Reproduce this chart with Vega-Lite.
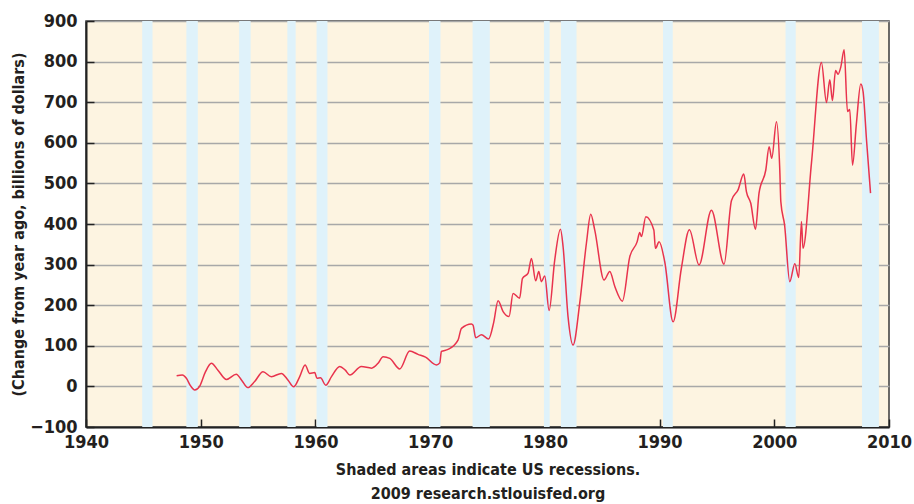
{
  "$schema": "https://vega.github.io/schema/vega-lite/v6.json",
  "width": 803,
  "height": 406,
  "autosize": {"type": "none"},
  "padding": {"left": 86, "top": 21, "right": 25, "bottom": 77},
  "background": "white",
  "config": {
    "view": {"fill": "#fdf4e1", "stroke": "#3a3a3a", "strokeWidth": 1.5},
    "font": "DejaVu Sans Condensed, Roboto, sans-serif"
  },
  "datasets": {
    "recessions": [
      {"year": 1944.9, "year_end": 1945.8},
      {"year": 1948.75, "year_end": 1949.75},
      {"year": 1953.35, "year_end": 1954.35},
      {"year": 1957.55, "year_end": 1958.28},
      {"year": 1960.1, "year_end": 1961.05},
      {"year": 1969.9, "year_end": 1970.9},
      {"year": 1973.7, "year_end": 1975.2},
      {"year": 1979.92, "year_end": 1980.42},
      {"year": 1981.4, "year_end": 1982.76},
      {"year": 1990.3, "year_end": 1991.15},
      {"year": 2000.98, "year_end": 2001.87},
      {"year": 2007.65, "year_end": 2009.12}
    ],
    "series": [
      {"year": 1947.9, "value": 26}, {"year": 1948.4, "value": 28}, {"year": 1948.75, "value": 20},
      {"year": 1949.1, "value": 2}, {"year": 1949.48, "value": -9}, {"year": 1949.9, "value": 0},
      {"year": 1950.4, "value": 35}, {"year": 1950.93, "value": 57}, {"year": 1951.5, "value": 40},
      {"year": 1952.24, "value": 17}, {"year": 1953.1, "value": 30}, {"year": 1953.55, "value": 16},
      {"year": 1954.1, "value": -3}, {"year": 1954.7, "value": 12}, {"year": 1955.43, "value": 36},
      {"year": 1956.16, "value": 24}, {"year": 1957.03, "value": 32}, {"year": 1957.6, "value": 16},
      {"year": 1958.1, "value": -1}, {"year": 1958.63, "value": 24}, {"year": 1959.1, "value": 53},
      {"year": 1959.5, "value": 32}, {"year": 1959.94, "value": 34}, {"year": 1960.14, "value": 20},
      {"year": 1960.44, "value": 21}, {"year": 1960.9, "value": 3}, {"year": 1961.4, "value": 24},
      {"year": 1962.12, "value": 49}, {"year": 1962.6, "value": 40}, {"year": 1963.0, "value": 28},
      {"year": 1964.0, "value": 49}, {"year": 1964.9, "value": 45}, {"year": 1965.46, "value": 57},
      {"year": 1965.9, "value": 73}, {"year": 1966.48, "value": 69}, {"year": 1967.35, "value": 43},
      {"year": 1968.22, "value": 87}, {"year": 1968.94, "value": 79}, {"year": 1969.6, "value": 72},
      {"year": 1970.55, "value": 53}, {"year": 1970.84, "value": 58}, {"year": 1970.98, "value": 86},
      {"year": 1971.56, "value": 91}, {"year": 1972.43, "value": 114}, {"year": 1972.73, "value": 143},
      {"year": 1973.6, "value": 154}, {"year": 1973.74, "value": 151}, {"year": 1973.97, "value": 120},
      {"year": 1974.47, "value": 127}, {"year": 1975.1, "value": 117}, {"year": 1975.55, "value": 159},
      {"year": 1975.92, "value": 211}, {"year": 1976.36, "value": 184}, {"year": 1976.88, "value": 172},
      {"year": 1977.23, "value": 229}, {"year": 1977.8, "value": 217}, {"year": 1978.05, "value": 266},
      {"year": 1978.54, "value": 279}, {"year": 1978.83, "value": 315}, {"year": 1979.2, "value": 260},
      {"year": 1979.47, "value": 283}, {"year": 1979.7, "value": 258}, {"year": 1979.99, "value": 272},
      {"year": 1980.37, "value": 187}, {"year": 1980.86, "value": 311}, {"year": 1981.36, "value": 387},
      {"year": 1981.59, "value": 344}, {"year": 1982.02, "value": 172}, {"year": 1982.46, "value": 102},
      {"year": 1983.04, "value": 205}, {"year": 1983.62, "value": 352}, {"year": 1984.0, "value": 424},
      {"year": 1984.35, "value": 385}, {"year": 1985.16, "value": 262}, {"year": 1985.66, "value": 283},
      {"year": 1986.1, "value": 246}, {"year": 1986.76, "value": 210}, {"year": 1987.4, "value": 319},
      {"year": 1988.04, "value": 356}, {"year": 1988.27, "value": 379}, {"year": 1988.42, "value": 369},
      {"year": 1988.8, "value": 418}, {"year": 1989.5, "value": 385}, {"year": 1989.64, "value": 340},
      {"year": 1989.96, "value": 356}, {"year": 1990.45, "value": 307}, {"year": 1991.18, "value": 159},
      {"year": 1991.9, "value": 291}, {"year": 1992.6, "value": 386}, {"year": 1993.44, "value": 299},
      {"year": 1994.52, "value": 434}, {"year": 1995.62, "value": 301}, {"year": 1996.27, "value": 458},
      {"year": 1996.84, "value": 484}, {"year": 1997.34, "value": 523}, {"year": 1997.57, "value": 480},
      {"year": 1997.95, "value": 451}, {"year": 1998.36, "value": 387}, {"year": 1998.67, "value": 476},
      {"year": 1999.26, "value": 533}, {"year": 1999.55, "value": 590}, {"year": 1999.78, "value": 562},
      {"year": 2000.19, "value": 652}, {"year": 2000.48, "value": 533}, {"year": 2000.57, "value": 455},
      {"year": 2000.9, "value": 397}, {"year": 2001.35, "value": 258}, {"year": 2001.79, "value": 302},
      {"year": 2002.13, "value": 268}, {"year": 2002.37, "value": 406}, {"year": 2002.5, "value": 340},
      {"year": 2003.24, "value": 550}, {"year": 2004.11, "value": 798}, {"year": 2004.55, "value": 699},
      {"year": 2004.84, "value": 755}, {"year": 2005.07, "value": 704}, {"year": 2005.34, "value": 778},
      {"year": 2005.56, "value": 769}, {"year": 2005.8, "value": 787}, {"year": 2006.09, "value": 829},
      {"year": 2006.38, "value": 677}, {"year": 2006.58, "value": 682}, {"year": 2006.82, "value": 545},
      {"year": 2007.16, "value": 648}, {"year": 2007.54, "value": 745}, {"year": 2007.74, "value": 726},
      {"year": 2008.04, "value": 607}, {"year": 2008.39, "value": 476}
    ]
  },
  "encoding": {
    "x": {
      "field": "year",
      "type": "quantitative",
      "scale": {"domain": [1940, 2010], "nice": false, "zero": false},
      "axis": {
        "values": [1940, 1950, 1960, 1970, 1980, 1990, 2000, 2010],
        "format": "d",
        "grid": false,
        "title": ["Shaded areas indicate US recessions.", "2009 research.stlouisfed.org"],
        "titleFontSize": 16,
        "titleFontWeight": "bold",
        "titleColor": "#231f20",
        "titleLineHeight": 24,
        "titlePadding": 10,
        "domainColor": "#222222",
        "domainWidth": 2,
        "tickColor": "#222222",
        "tickWidth": 1.5,
        "tickSize": -8,
        "labelFontSize": 18,
        "labelFontWeight": "bold",
        "labelColor": "#231f20",
        "labelPadding": 14,
        "labelFlush": false
      }
    }
  },
  "layer": [
    {
      "data": {"name": "recessions"},
      "mark": {"type": "rect", "color": "#dff2fa", "opacity": 1},
      "encoding": {"x2": {"field": "year_end"}}
    },
    {
      "data": {"name": "series"},
      "mark": {"type": "line", "color": "#e8334d", "strokeWidth": 1.5, "interpolate": "monotone"},
      "encoding": {
        "y": {
          "field": "value",
          "type": "quantitative",
          "scale": {"domain": [-100, 900], "nice": false},
          "axis": {
            "values": [-100, 0, 100, 200, 300, 400, 500, 600, 700, 800, 900],
            "format": "d",
            "grid": true,
            "gridColor": "#a8a8a8",
            "gridWidth": 1.5,
            "title": "(Change from year ago, billions of dollars)",
            "titleFontSize": 16,
            "titleFontWeight": "bold",
            "titleColor": "#231f20",
            "titlePadding": 3,
            "domainColor": "#222222",
            "domainWidth": 2,
            "tickColor": "#222222",
            "tickWidth": 1.5,
            "tickSize": -8,
            "labelFontSize": 18,
            "labelFontWeight": "bold",
            "labelColor": "#231f20",
            "labelPadding": 17,
            "labelFlush": false
          }
        }
      }
    }
  ]
}
